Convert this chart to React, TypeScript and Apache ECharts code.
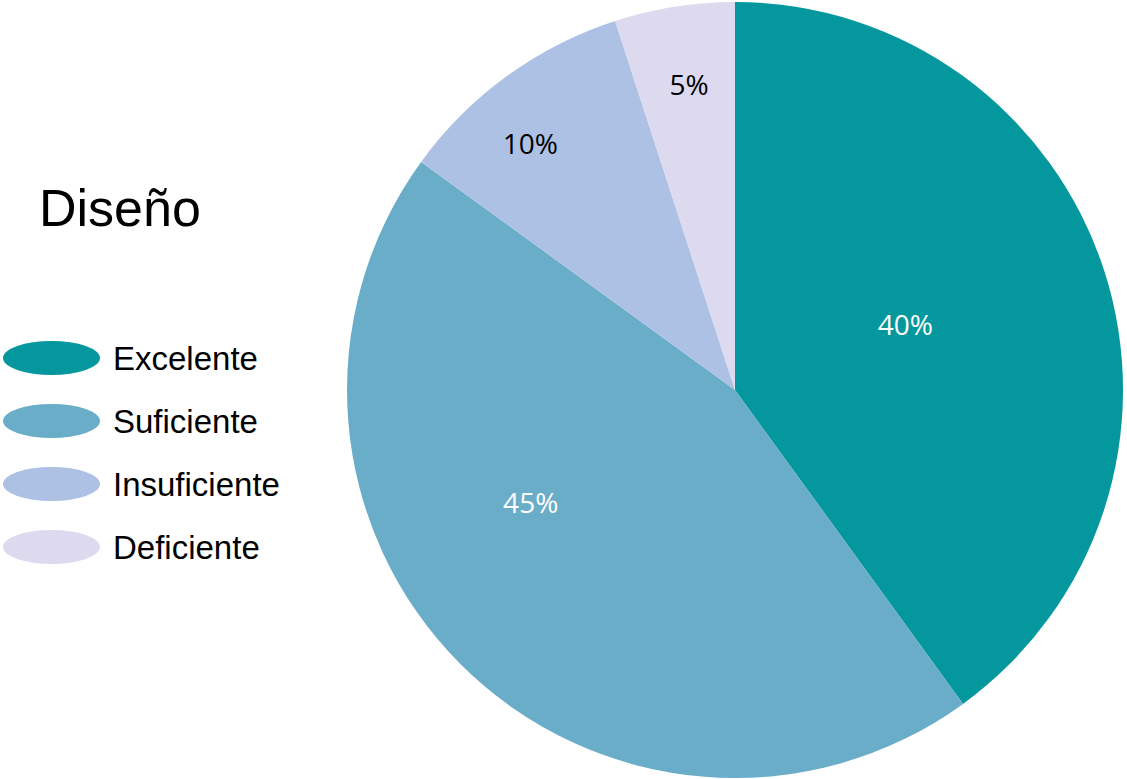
import React, { useEffect, useRef } from "react";
import * as echarts from "echarts";

const categories = ["Excelente", "Suficiente", "Insuficiente", "Deficiente"];
const values = [40, 45, 10, 5];
const colors = ["#04989E", "#6AADC9", "#ACC1E3", "#DDDAF0"];
const labelColors = ["#FFFFFF", "#FFFFFF", "#000000", "#000000"];
const titleText = "Diseño";

// label nudges (Excel-style best-fit placement)
const labelNudges: [number, number][] = [
  [-17, -5],
  [-65, -27],
  [-89, -88],
  [-15, -111],
];

const ELLIPSE = "path://M0,50 A50,50 0 1,1 100,50 A50,50 0 1,1 0,50 Z";

export default function App() {
  const ref = useRef<HTMLDivElement>(null);
  useEffect(() => {
    if (!ref.current) return;
    const chart = echarts.init(ref.current, undefined, { renderer: "svg" });
    chart.setOption({
      animation: false,
      backgroundColor: "#FFFFFF",
      graphic: [
        {
          type: "text",
          left: 39,
          top: 182,
          style: {
            text: titleText,
            fontFamily: "Liberation Sans, Arial, sans-serif",
            fontSize: 52,
            fill: "#000000",
          },
        },
      ],
      legend: {
        orient: "vertical",
        left: 3,
        top: 341,
        padding: 0,
        itemWidth: 97,
        itemHeight: 34,
        itemGap: 29,
        icon: ELLIPSE,
        symbolKeepAspect: false,
        data: categories,
        textStyle: {
          fontFamily: "Liberation Sans, Arial, sans-serif",
          fontSize: 33,
          color: "#000000",
          padding: [0, 0, 0, 8],
        },
      },
      series: [
        {
          type: "pie",
          center: [735, 390],
          radius: [0, 388],
          startAngle: 90,
          clockwise: true,
          avoidLabelOverlap: false,
          label: {
            show: true,
            position: "inside",
            formatter: "{c}%",
            fontFamily: "Open Sans, Noto Sans, sans-serif",
            fontSize: 28,
          },
          labelLine: { show: false },
          emphasis: { disabled: true },
          labelLayout: (params: any) => {
            const n = labelNudges[params.dataIndex] || [0, 0];
            return { dx: n[0], dy: n[1] };
          },
          data: categories.map((name, i) => ({
            name,
            value: values[i],
            itemStyle: { color: colors[i], borderWidth: 0 },
            label: { color: labelColors[i] },
          })),
        },
      ],
    });
    return () => chart.dispose();
  }, []);
  return (
    <div
      ref={ref}
      style={{ position: "fixed", left: 0, top: 0, width: 1127, height: 779 }}
    />
  );
}
